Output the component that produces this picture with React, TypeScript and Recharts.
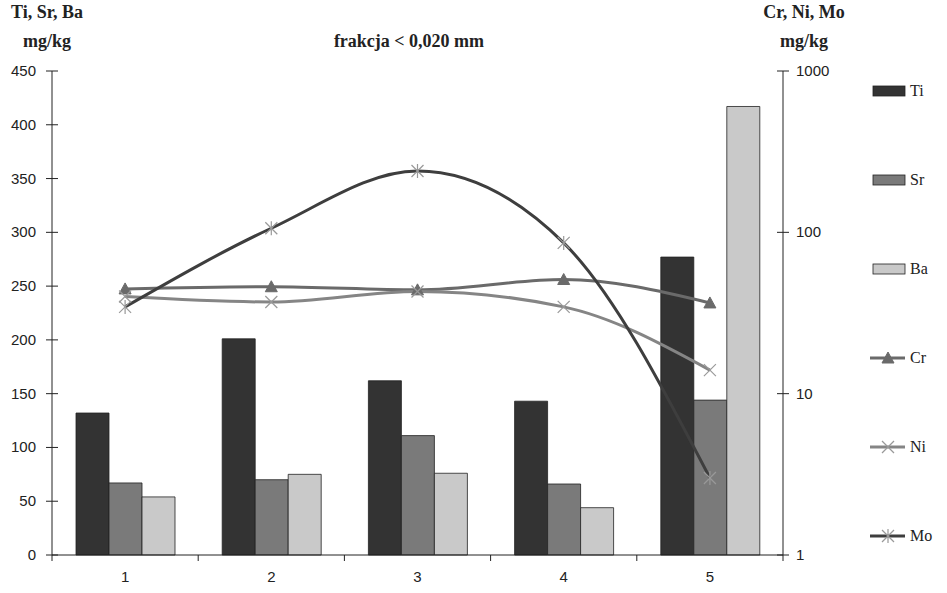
import React from 'react';
import { ComposedChart, Bar, Line, XAxis, YAxis } from 'recharts';

// categories and values
const categories = ['1', '2', '3', '4', '5'];
const tiValues = [132, 201, 162, 143, 277];
const srValues = [67, 70, 111, 66, 144];
const baValues = [54, 75, 76, 44, 417];
const crValues = [44.6, 46, 44, 51, 36.5];
const niValues = [40, 37, 43, 34.5, 14];
const moValues = [34.5, 106, 240, 86, 3];

const leftTicks = [0, 50, 100, 150, 200, 250, 300, 350, 400, 450];
const rightTicks = [1, 10, 100, 1000];

const W = 947;
const H = 593;
const PLOT_LEFT = 52;
const PLOT_RIGHT = 783;
const PLOT_TOP = 71;
const PLOT_BOTTOM = 555;
const STEP = (PLOT_RIGHT - PLOT_LEFT) / categories.length;

const data = categories.map((c, i) => ({
  cat: c,
  Ti: tiValues[i],
  Sr: srValues[i],
  Ba: baValues[i],
  Cr: crValues[i],
  Ni: niValues[i],
  Mo: moValues[i],
}));

const serif = '"Liberation Serif", "Times New Roman", serif';
const sans = '"Liberation Sans", Arial, sans-serif';

const barSeries = [
  { key: 'Ti', fill: '#333333' },
  { key: 'Sr', fill: '#7a7a7a' },
  { key: 'Ba', fill: '#c9c9c9' },
];

const lineSeries = [
  { key: 'Cr', stroke: '#6a6a6a', marker: 'triangle' },
  { key: 'Ni', stroke: '#858585', marker: 'cross' },
  { key: 'Mo', stroke: '#3e3e3e', marker: 'star' },
];

const Marker = ({ cx, cy, kind, color }: any) => {
  if (cx == null || cy == null) return null;
  if (kind === 'triangle') {
    return <polygon points={`${cx},${cy - 6} ${cx - 6},${cy + 5} ${cx + 6},${cy + 5}`} fill={color} stroke={color} />;
  }
  if (kind === 'cross') {
    return (
      <g stroke="#999" strokeWidth={1.2}>
        <line x1={cx - 6} y1={cy - 6} x2={cx + 6} y2={cy + 6} />
        <line x1={cx - 6} y1={cy + 6} x2={cx + 6} y2={cy - 6} />
      </g>
    );
  }
  return (
    <g stroke="#999" strokeWidth={1.2}>
      <line x1={cx - 6} y1={cy - 6} x2={cx + 6} y2={cy + 6} />
      <line x1={cx - 6} y1={cy + 6} x2={cx + 6} y2={cy - 6} />
      <line x1={cx} y1={cy - 7} x2={cx} y2={cy + 7} />
    </g>
  );
};

const LeftTick = ({ y, payload }: any) => (
  <g>
    <line x1={PLOT_LEFT - 6} y1={y} x2={PLOT_LEFT + 6} y2={y} stroke="#222" />
    <text x={PLOT_LEFT - 16} y={y} dy={5} textAnchor="end" fontSize={15} fontFamily={sans} fill="#222">
      {payload.value}
    </text>
  </g>
);

const RightTick = ({ y, payload }: any) => (
  <g>
    <line x1={PLOT_RIGHT - 6} y1={y} x2={PLOT_RIGHT + 6} y2={y} stroke="#222" />
    <text x={PLOT_RIGHT + 13} y={y} dy={5} textAnchor="start" fontSize={15} fontFamily={sans} fill="#222">
      {payload.value}
    </text>
  </g>
);

const BottomTick = ({ x, payload, index }: any) => (
  <g>
    <line x1={x - STEP / 2} y1={PLOT_BOTTOM} x2={x - STEP / 2} y2={PLOT_BOTTOM + 6} stroke="#222" />
    {index === categories.length - 1 && (
      <line x1={x + STEP / 2} y1={PLOT_BOTTOM} x2={x + STEP / 2} y2={PLOT_BOTTOM + 6} stroke="#222" />
    )}
    <text x={x} y={PLOT_BOTTOM + 27} textAnchor="middle" fontSize={15} fontFamily={sans} fill="#222">
      {payload.value}
    </text>
  </g>
);

const Legend = () => {
  const rows = [
    ...barSeries.map((b) => ({ key: b.key, bar: b.fill, line: '', marker: '' })),
    ...lineSeries.map((l) => ({ key: l.key, bar: '', line: l.stroke, marker: l.marker })),
  ];
  return (
    <svg style={{ position: 'absolute', left: 860, top: 70, overflow: 'visible' }} width={87} height={490}>
      {rows.map((r, i) => {
        const cy = 21 + i * 89;
        return (
          <g key={r.key}>
            {r.bar ? (
              <rect x={13} y={cy - 5} width={32} height={10} fill={r.bar} stroke="#222" strokeWidth={0.8} />
            ) : (
              <g>
                <line x1={10} y1={cy} x2={45} y2={cy} stroke={r.line} strokeWidth={3} />
                <Marker cx={28} cy={cy} kind={r.marker} color={r.line} />
              </g>
            )}
            <text x={50} y={cy + 5} fontSize={16} fontFamily={serif} fill="#222">
              {r.key}
            </text>
          </g>
        );
      })}
    </svg>
  );
};

const label = (text: string, left: number, top: number, width: number) => (
  <div
    style={{
      position: 'absolute',
      left,
      top,
      width,
      textAlign: 'center',
      fontFamily: serif,
      fontWeight: 'bold',
      fontSize: 18,
      color: '#222',
      whiteSpace: 'nowrap',
    }}
  >
    {text}
  </div>
);

export default function App() {
  return (
    <div style={{ position: 'absolute', left: 0, top: 0, width: W, height: H, background: '#fff' }}>
      {label('Ti, Sr, Ba', 0, 2, 94)}
      {label('mg/kg', 0, 31, 94)}
      {label('frakcja < 0,020 mm', 300, 31, 218)}
      {label('Cr, Ni, Mo', 744, 2, 120)}
      {label('mg/kg', 744, 31, 120)}
      <ComposedChart
        width={W}
        height={H}
        data={data}
        margin={{ top: PLOT_TOP, right: W - PLOT_RIGHT - 60, bottom: 0, left: 0 }}
        barGap={0}
        barCategoryGap="16%"
      >
        <XAxis
          dataKey="cat"
          axisLine={{ stroke: '#222' }}
          tickLine={false}
          tick={<BottomTick />}
          height={H - PLOT_BOTTOM}
          interval={0}
        />
        <YAxis
          yAxisId="left"
          width={PLOT_LEFT}
          domain={[0, 450]}
          ticks={leftTicks}
          axisLine={{ stroke: '#222' }}
          tickLine={false}
          tick={<LeftTick />}
          interval={0}
        />
        <YAxis
          yAxisId="right"
          orientation="right"
          width={60}
          scale="log"
          domain={[1, 1000]}
          ticks={rightTicks}
          allowDataOverflow
          axisLine={{ stroke: '#222' }}
          tickLine={false}
          tick={<RightTick />}
          interval={0}
        />
        {barSeries.map((b) => (
          <Bar
            key={b.key}
            yAxisId="left"
            dataKey={b.key}
            fill={b.fill}
            stroke="#222"
            strokeWidth={0.8}
            barSize={33}
            isAnimationActive={false}
          />
        ))}
        {lineSeries.map((l) => (
          <Line
            key={l.key}
            yAxisId="right"
            type="monotone"
            dataKey={l.key}
            stroke={l.stroke}
            strokeWidth={3}
            dot={(p: any) => <Marker key={p.index} cx={p.cx} cy={p.cy} kind={l.marker} color={l.stroke} />}
            activeDot={false}
            isAnimationActive={false}
          />
        ))}
      </ComposedChart>
      <Legend />
    </div>
  );
}
